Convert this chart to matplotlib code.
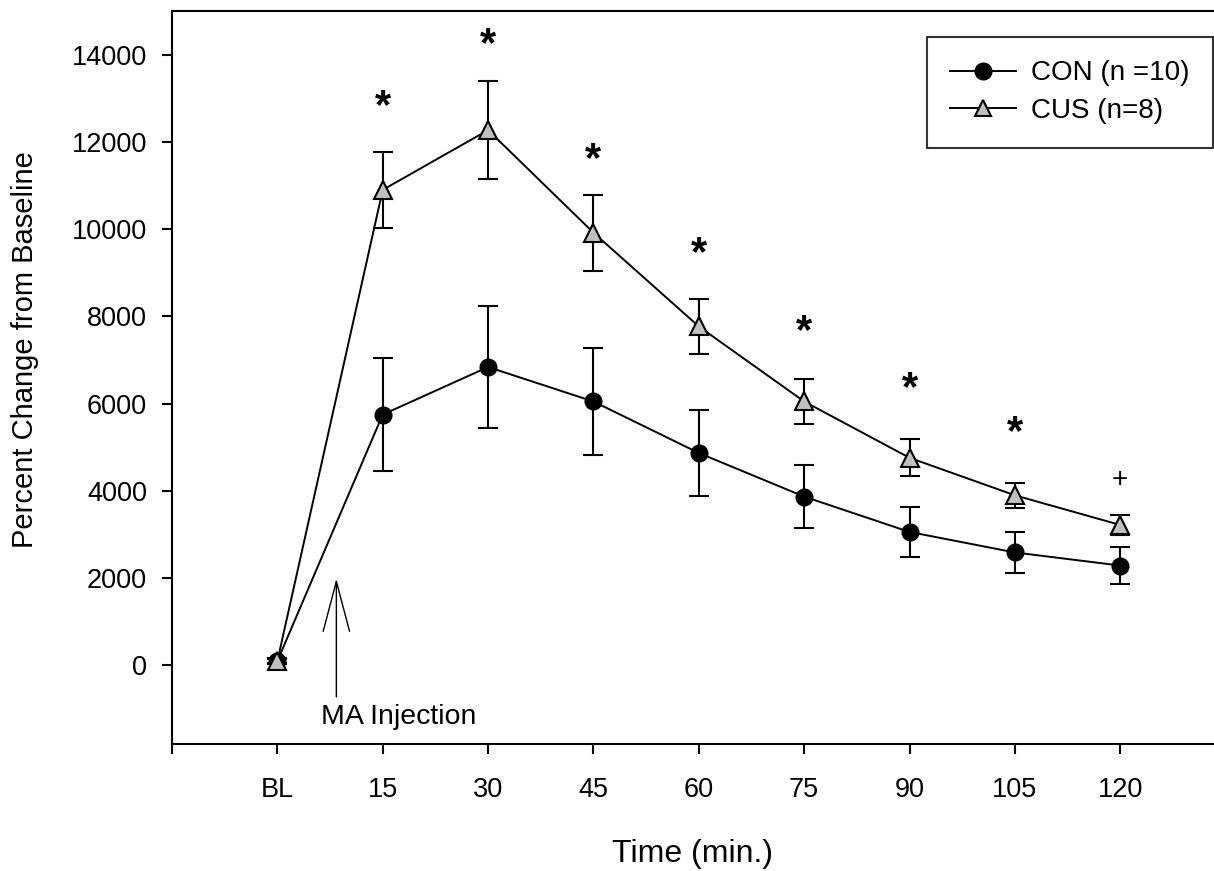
import matplotlib
matplotlib.use('Agg')
import matplotlib.pyplot as plt
from matplotlib.lines import Line2D
import numpy as np

plt.rcParams['font.family'] = ['Liberation Sans', 'DejaVu Sans']

# Data
time_labels = ['', 'BL', '15', '30', '45', '60', '75', '90', '105', '120']
con_mean = [100, 5750, 6840, 6050, 4870, 3870, 3060, 2590, 2290]
con_err = [60, 1290, 1400, 1230, 990, 730, 570, 480, 420]
cus_mean = [100, 10900, 12270, 9920, 7770, 6050, 4760, 3900, 3220]
cus_err = [50, 870, 1130, 870, 620, 510, 420, 290, 240]
sig_marks = ['', '*', '*', '*', '*', '*', '*', '*', '+']
sig_y = [None, 12950, 14380, 11750, 9580, 7800, 6500, 5480, 4280]

x = np.arange(len(con_mean))

fig = plt.figure(figsize=(12.14, 8.71), dpi=100)
ax = fig.add_axes([172 / 1214, 1 - 744 / 871, 1 - 172 / 1214, (744 - 11) / 871])

ax.errorbar(x, con_mean, yerr=con_err, color='black', marker='o', markersize=12,
            markerfacecolor='black', markeredgecolor='black', linewidth=1.4,
            elinewidth=1.5, capsize=7.2, capthick=1.5, zorder=3)
ax.errorbar(x, cus_mean, yerr=cus_err, color='black', marker='^', markersize=13,
            markerfacecolor='#c0c0c0', markeredgecolor='black', markeredgewidth=1.5,
            linewidth=1.4, elinewidth=1.5, capsize=7.2, capthick=1.5, zorder=4)

# significance markers (glyph sits high, so nudge down a few points)
for xi, m, yv in zip(x, sig_marks, sig_y):
    if m == '*':
        ax.annotate(m, (xi, yv), xytext=(0, -5), textcoords='offset points',
                    ha='center', va='center', fontsize=30, fontweight='bold')
    elif m == '+':
        ax.annotate(m, (xi, yv), xytext=(0, -1), textcoords='offset points',
                    ha='center', va='center', fontsize=20)

# injection arrow
ax.annotate('', xy=(0.56, 1990), xytext=(0.56, -720),
            arrowprops=dict(arrowstyle='->,head_length=3.6,head_width=0.95',
                            mutation_scale=10, color='black', lw=1.0,
                            shrinkA=0, shrinkB=0))
ax.text(1.15, -1180, 'MA Injection', ha='center', va='center', fontsize=20.5)

ax.set_xlim(-1, 8.89)
ax.set_ylim(-1800, 15000)
ax.set_xticks(np.arange(-1, 9))
ax.set_xticklabels(time_labels)
ax.set_yticks(np.arange(0, 14001, 2000))
ax.tick_params(direction='out', length=7, width=1.5, labelsize=19.5)
ax.tick_params(axis='x', pad=17)
ax.tick_params(axis='y', pad=11)
for s in ['left', 'bottom', 'top']:
    ax.spines[s].set_linewidth(1.5)
ax.spines['right'].set_visible(False)

ax.set_xlabel('Time (min.)', fontsize=23)
ax.set_ylabel('Percent Change from Baseline', fontsize=21)
ax.xaxis.set_label_coords(0.5, -0.13)
ax.yaxis.set_label_coords(-0.128, 0.5375)

handles = [
    Line2D([], [], color='black', lw=1.4, marker='o', markersize=12,
           markerfacecolor='black'),
    Line2D([], [], color='black', lw=1.4, marker='^', markersize=12,
           markerfacecolor='#c0c0c0', markeredgecolor='black', markeredgewidth=1.5),
]
leg = ax.legend(handles, ['CON (n =10)', 'CUS (n=8)'], loc='upper right',
                bbox_to_anchor=(0.999, 0.965), fontsize=20,
                frameon=True, fancybox=False, handlelength=2.35, borderpad=0.85,
                labelspacing=0.42, handletextpad=0.55, borderaxespad=0)
leg.get_frame().set_edgecolor('black')
leg.get_frame().set_linewidth(1.5)

fig.savefig('out.png', dpi=100)
